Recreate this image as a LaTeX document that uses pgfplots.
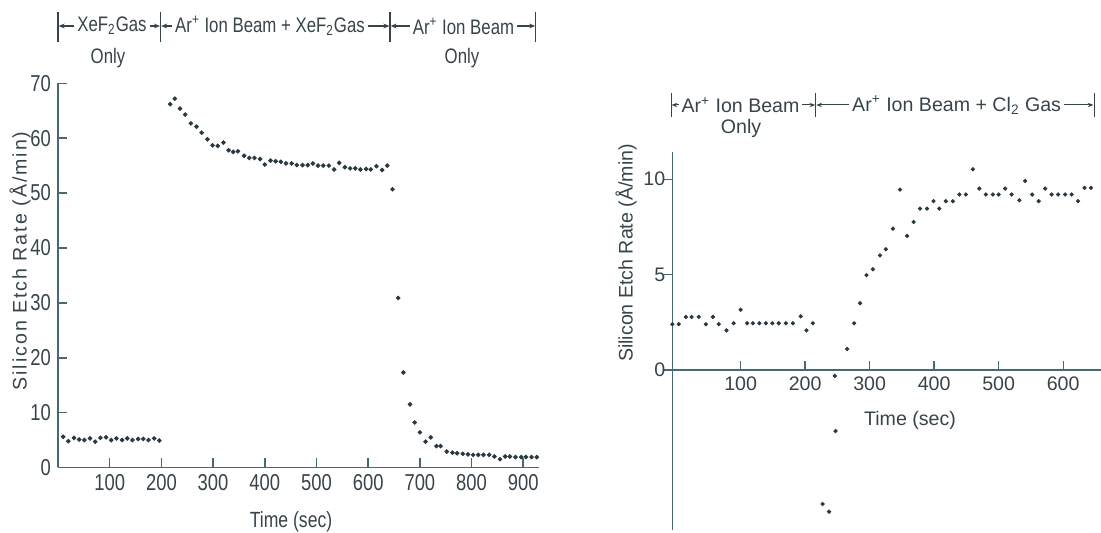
\documentclass[border=0pt]{standalone}
\usepackage{fontspec}
\setmainfont{Liberation Sans}
\newfontfamily\cond[FakeStretch=0.8]{Liberation Sans}
\newfontfamily\wide[LetterSpace=10]{Liberation Sans}
\usepackage{pgfplots}
\pgfplotsset{compat=1.18}
\usetikzlibrary{arrows.meta}
\definecolor{txt}{RGB}{55,68,74}
\definecolor{axc}{RGB}{70,105,115}
\definecolor{dot}{RGB}{40,58,64}

\pgfplotstableread{
t v
10 5.6
20 4.8
31 5.4
41 5.1
51 5.0
62 5.3
72 4.7
82 5.4
93 5.5
103 5.0
113 5.3
124 5.0
134 5.3
144 5.0
155 5.2
165 5.2
175 5.0
186 5.3
196 4.9
217 66.2
226 67.2
236 65.4
246 64.3
257 62.7
268 62.1
278 61.0
289 59.8
299 58.7
309 58.6
320 59.2
330 57.8
339 57.5
348 57.6
360 56.8
370 56.4
380 56.4
391 56.2
400 55.2
411 55.9
421 55.8
431 55.7
441 55.4
452 55.4
462 55.1
473 55.1
483 55.1
493 55.4
503 55.0
513 55.0
524 55.0
534 54.3
544 55.5
555 54.7
565 54.5
575 54.5
585 54.3
596 54.4
605 54.3
616 54.9
627 54.2
637 55.0
647 50.7
658 30.9
668 17.3
681 11.5
690 8.2
700 6.4
711 4.7
721 5.5
732 3.9
740 3.9
752 2.9
763 2.7
772 2.6
783 2.5
793 2.4
803 2.3
813 2.3
823 2.3
834 2.3
844 2.0
855 1.5
865 2.0
874 2.0
885 1.9
896 1.9
905 1.9
916 1.9
926 1.9
}\xefdata

\pgfplotstableread{
t v
-6 2.40
4 2.40
15 2.78
24 2.78
35 2.78
46 2.40
57 2.78
66 2.40
78 2.08
89 2.45
100 3.16
110 2.45
119 2.45
129 2.45
139 2.45
149 2.45
159 2.45
170 2.45
181 2.45
193 2.81
202 2.08
212 2.45
227 -7.03
237 -7.43
246 -0.31
247 -3.2
265 1.1
276 2.45
285 3.5
295 4.97
305 5.28
316 6.01
325 6.33
336 7.41
347 9.46
358 7.03
368 7.76
378 8.46
389 8.46
399 8.85
408 8.46
418 8.85
429 8.85
439 9.2
449 9.2
460 10.52
470 9.51
480 9.2
491 9.2
500 9.2
510 9.51
520 9.2
532 8.9
541 9.91
552 9.2
562 8.85
572 9.51
582 9.2
592 9.2
603 9.2
613 9.2
623 8.85
633 9.55
643 9.55
}\cldata

\begin{document}
\begin{tikzpicture}
\useasboundingbox (0,0) rectangle (550.5pt,266.5pt);

% ---------- left chart ----------
\begin{axis}[
  at={(29pt,32.75pt)}, anchor=south west,
  scale only axis, width=240.4pt, height=192.1pt,
  xmin=0, xmax=930, ymin=0, ymax=70,
  axis lines=left,
  axis line style={axc, line width=0.8pt, -},
  xtick={100,200,...,900}, ytick={0,10,...,70},
  tick align=inside, major tick length=4.5pt,
  tick style={axc, line width=0.8pt},
  ticklabel style={font=\cond\fontsize{11.5}{12}\selectfont, text=txt},
  /pgf/number format/assume math mode=true,
  clip=false,
]
\addplot[only marks, mark=*, mark size=0.95pt, color=dot] table[x=t, y=v] {\xefdata};
\end{axis}

% ---------- right chart ----------
\begin{axis}[
  at={(336.15pt,1.4pt)}, anchor=south west,
  scale only axis, width=214.15pt, height=189.3pt,
  xmin=-6, xmax=658, ymin=-8.4, ymax=11.45,
  axis y line=left, axis x line=middle,
  axis line style={axc, line width=0.7pt, -},
  xtick={100,200,...,600}, ytick={0,5,10},
  hide obscured y ticks=false,
  tick align=inside, major tick length=4.5pt,
  tick style={axc, line width=0.7pt},
  ytick style={xshift=-4pt},
  ticklabel style={font=\fontsize{9.8}{11}\selectfont, text=txt},
  /pgf/number format/assume math mode=true,
  clip=false,
]
\addplot[only marks, mark=*, mark size=0.85pt, color=dot] table[x=t, y=v] {\cldata};
\end{axis}

% ---------- axis labels ----------
\node[rotate=90, text=txt, font=\wide\fontsize{9.8}{11}\selectfont] at (10pt,136pt) {Silicon Etch Rate (Å/min)};
\node[text=txt, font=\cond\fontsize{11}{12}\selectfont] at (145.5pt,5.5pt) {Time (sec)};
\node[rotate=90, text=txt, font=\fontsize{9.8}{11}\selectfont] at (313pt,140pt) {Silicon Etch Rate (Å/min)};
\node[text=txt, font=\fontsize{9.8}{11}\selectfont] at (455pt,56.2pt) {Time (sec)};

% ---------- left annotation ----------
\begin{scope}[txt, line width=0.6pt, >={Stealth[length=3pt,width=2.4pt]},
  every node/.style={font=\cond\fontsize{10.5}{12}\selectfont, text=txt, inner sep=1.2pt}]
\foreach \bx in {29,80.3,195,267.9} \draw (\bx pt,245.5pt) -- (\bx pt,260.5pt);
\node (a1) at (56pt,253.5pt) {XeF\textsubscript{2}Gas};
\draw[->] (a1.west) -- (29.3pt,253.5pt);
\draw[->] (a1.east) -- (80pt,253.5pt);
\node (a2) at (135pt,253.5pt) {Ar\textsuperscript{+} Ion Beam + XeF\textsubscript{2}Gas};
\draw[->] (a2.west) -- (80.6pt,253.5pt);
\draw[->] (a2.east) -- (194.7pt,253.5pt);
\node (a3) at (231.75pt,253.5pt) {Ar\textsuperscript{+} Ion Beam};
\draw[->] (a3.west) -- (195.3pt,253.5pt);
\draw[->] (a3.east) -- (267.6pt,253.5pt);
\node at (54pt,237.5pt) {Only};
\node at (231pt,237.5pt) {Only};
\end{scope}

% ---------- right annotation ----------
\begin{scope}[txt, line width=0.5pt, >={Stealth[length=2.8pt,width=2.2pt]},
  every node/.style={font=\fontsize{9.8}{11}\selectfont, text=txt, inner sep=1.2pt}]
\foreach \bx in {335.5,407.85,547} \draw (\bx pt,208pt) -- (\bx pt,220pt);
\node (b1) at (370.25pt,214pt) {Ar\textsuperscript{+} Ion Beam};
\draw[->] (b1.west) -- (335.8pt,214pt);
\draw[->] (b1.east) -- (407.55pt,214pt);
\node (b2) at (478.3pt,214pt) {Ar\textsuperscript{+} Ion Beam + Cl\textsubscript{2} Gas};
\draw[->] (b2.west) -- (408.15pt,214pt);
\draw[->] (b2.east) -- (546.7pt,214pt);
\node at (370.5pt,202.5pt) {Only};
\end{scope}
\end{tikzpicture}
\end{document}
